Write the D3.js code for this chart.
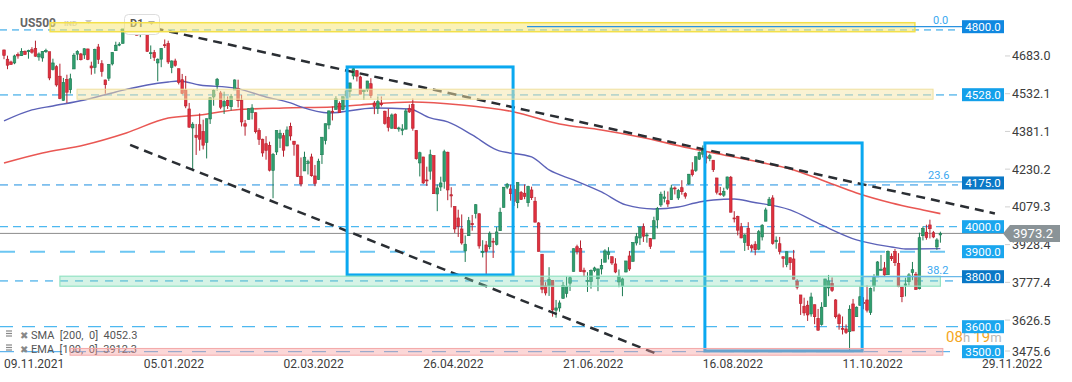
<!DOCTYPE html>
<html>
<head>
<meta charset="utf-8">
<script src="https://cdn.jsdelivr.net/npm/d3@7/dist/d3.min.js"></script>
<style>
  body { margin: 0; background: #fff; }
  svg { display: block; font-family: Roboto, "Noto Sans", sans-serif; }
</style>
</head>
<body>
<svg id="chart" width="1072" height="382"></svg>
<script>
// daily candles, one per weekday from 09.11.2021 to 18.11.2022
const opens = [4707,4670,4659,4655,4689,4684,4701,4700,4708,4713,4679,4675,4700,4700,4629,4640,4602,4505,4589,4548,
  4631,4690,4691,4687,4711,4643,4637,4719,4652,4587,4594,4651,4704,4726,4733,4795,4788,4795,4775,4778,
  4804,4787,4693,4697,4655,4670,4728,4733,4637,4663,4632,4588,4547,4471,4395,4366,4408,4381,4337,4431,
  4519,4566,4535,4482,4505,4480,4547,4553,4506,4412,4429,4456,4456,4385,4350,4332,4325,4225,4299,4354,
  4364,4323,4401,4342,4327,4202,4223,4253,4279,4203,4189,4288,4345,4407,4462,4469,4493,4469,4523,4541,
  4603,4624,4599,4540,4547,4572,4495,4474,4494,4462,4438,4394,4450,4392,4385,4390,4473,4489,4385,4255,
  4279,4187,4222,4285,4131,4159,4181,4298,4128,4081,4035,3991,3903,3964,4013,4053,4052,3900,3927,3920,
  3942,3929,3984,4077,4158,4151,4150,4096,4137,4134,4096,4147,4102,4015,3890,3763,3764,3785,3666,3675,
  3713,3733,3774,3821,3920,3913,3826,3785,3781,3825,3792,3831,3858,3889,3880,3851,3779,3763,3819,3883,
  3861,3935,3955,4000,3965,3953,3951,4027,4087,4113,4104,4108,4155,4115,4156,4133,4171,4227,4225,4270,
  4290,4280,4273,4266,4195,4133,4126,4154,4198,4035,4041,4000,3937,3994,3924,3930,3910,3959,4022,4084,
  4115,3940,3932,3880,3849,3876,3871,3782,3727,3682,3686,3651,3688,3633,3609,3680,3755,3773,3707,3647,
  3593,3591,3580,3691,3640,3685,3697,3707,3657,3762,3799,3825,3835,3808,3881,3901,3853,3758,3766,3780,
  3817,3810,3752,3964,3978,4007,3976,3919,3967];
const highs = [4708,4684,4664,4688,4697,4714,4705,4708,4718,4744,4697,4702,4712,4665,4672,4646,4652,4595,4608,4612,
  4694,4706,4695,4713,4712,4660,4712,4731,4666,4588,4651,4698,4740,4738,4791,4807,4805,4808,4787,4797,
  4818,4797,4725,4707,4673,4714,4749,4744,4665,4672,4632,4611,4603,4495,4418,4411,4453,4428,4432,4517,
  4550,4595,4543,4540,4521,4531,4589,4588,4527,4427,4473,4490,4457,4394,4352,4362,4340,4295,4385,4388,
  4375,4401,4416,4343,4328,4277,4300,4268,4292,4247,4272,4358,4412,4465,4481,4522,4501,4520,4546,4576,
  4637,4627,4604,4548,4583,4594,4503,4521,4521,4464,4472,4453,4453,4400,4410,4471,4489,4513,4386,4300,
  4279,4240,4308,4270,4169,4200,4308,4300,4158,4081,4068,4049,3965,4039,4047,4090,4052,3946,3943,3981,
  3955,3999,4076,4158,4175,4168,4167,4177,4143,4169,4164,4160,4119,4018,3890,3778,3838,3785,3707,3705,
  3779,3801,3802,3913,3928,3945,3836,3818,3829,3840,3832,3871,3910,3918,3880,3874,3829,3796,3863,3903,
  3937,3975,3999,4013,3976,3954,4040,4079,4140,4144,4141,4168,4161,4151,4186,4138,4211,4258,4280,4301,
  4325,4302,4292,4266,4195,4159,4156,4200,4203,4062,4044,4015,3970,4018,3930,3942,3987,4010,4076,4119,
  4126,3961,3959,3880,3900,3876,3907,3790,3727,3716,3704,3736,3688,3671,3698,3791,3807,3797,3710,3653,
  3641,3609,3686,3711,3681,3762,3718,3765,3757,3810,3862,3887,3859,3905,3893,3911,3894,3760,3796,3814,
  3859,3819,3976,4001,4008,4028,3983,3954,3980];
const lows = [4670,4630,4648,4650,4672,4683,4688,4672,4692,4680,4664,4660,4695,4586,4625,4560,4510,4504,4495,4533,
  4631,4666,4665,4671,4666,4608,4612,4651,4600,4532,4583,4645,4703,4722,4733,4780,4778,4775,4765,4758,
  4774,4700,4671,4663,4582,4638,4715,4651,4614,4640,4569,4530,4474,4396,4222,4287,4304,4309,4273,4411,
  4484,4544,4470,4451,4471,4465,4547,4477,4401,4364,4429,4429,4373,4327,4280,4268,4221,4114,4287,4315,
  4280,4322,4345,4284,4199,4161,4223,4209,4200,4162,4187,4251,4329,4390,4425,4469,4455,4466,4501,4517,
  4589,4581,4531,4507,4539,4514,4450,4451,4481,4408,4381,4392,4392,4380,4366,4390,4455,4384,4268,4201,
  4171,4163,4188,4131,4062,4143,4152,4106,4077,3975,3959,3928,3859,3964,3984,4033,3912,3877,3810,3909,
  3875,3925,3984,4077,4150,4104,4083,4074,4107,4110,4080,4107,4018,3901,3734,3725,3723,3640,3636,3660,
  3713,3717,3743,3821,3889,3820,3800,3739,3752,3818,3742,3809,3858,3869,3847,3814,3758,3722,3817,3823,
  3861,3925,3927,3939,3936,3911,3951,3993,4079,4097,4079,4107,4129,4107,4128,4112,4167,4201,4219,4267,
  4277,4253,4262,4219,4129,4124,4119,4147,4057,4017,3965,3954,3903,3907,3900,3886,3906,3945,4022,4083,
  3928,3912,3889,3837,3838,3827,3789,3749,3647,3644,3623,3640,3610,3584,3604,3680,3722,3739,3633,3588,
  3569,3571,3505,3583,3640,3685,3670,3657,3647,3741,3799,3825,3803,3808,3863,3843,3758,3698,3721,3765,
  3786,3748,3749,3945,3948,3953,3954,3907,3936];
const closes = [4685,4646,4649,4683,4683,4701,4689,4705,4698,4682,4691,4701,4705,4595,4655,4567,4513,4577,4538,4592,
  4686,4701,4668,4712,4669,4635,4709,4669,4621,4568,4649,4697,4726,4730,4791,4786,4793,4778,4766,4797,
  4794,4701,4696,4677,4670,4713,4726,4659,4663,4645,4577,4533,4483,4398,4410,4357,4350,4326,4432,4516,
  4546,4590,4478,4501,4484,4522,4587,4504,4419,4402,4472,4475,4380,4349,4295,4305,4226,4289,4385,4374,
  4306,4387,4363,4329,4201,4171,4278,4260,4204,4173,4262,4358,4412,4463,4461,4512,4456,4520,4543,4575,
  4632,4602,4530,4546,4583,4525,4481,4500,4488,4413,4397,4447,4392,4395,4391,4463,4459,4394,4272,4296,
  4175,4183,4288,4132,4155,4175,4300,4147,4123,3991,4001,3935,3930,4024,4008,4088,3923,3901,3901,3974,
  3941,3979,4058,4158,4170,4132,4101,4177,4109,4121,4161,4116,4018,3901,3750,3735,3790,3667,3675,3695,
  3765,3760,3796,3912,3900,3821,3819,3785,3825,3835,3831,3845,3903,3899,3855,3819,3802,3791,3863,3831,
  3937,3960,3999,3962,3967,3921,4024,4073,4130,4119,4091,4155,4152,4145,4140,4122,4210,4208,4280,4297,
  4305,4274,4284,4228,4138,4128,4141,4199,4058,4031,3986,3955,3967,3924,3915,3908,3980,4006,4067,4110,
  3933,3946,3901,3873,3900,3856,3790,3758,3693,3655,3647,3719,3640,3586,3678,3791,3783,3745,3640,3612,
  3589,3577,3670,3583,3678,3720,3695,3666,3753,3797,3859,3830,3807,3901,3872,3856,3760,3720,3771,3807,
  3828,3749,3956,3993,3957,3992,3959,3947,3973];

// indicator lines: [candle index, value]
const sma200 = [[0,4255],[11,4295],[23,4327],[35,4375],[47,4435],[56,4447],[66,4467],[80,4475],[94,4479],[102,4487],
  [117,4499],[131,4487],[146,4459],[159,4411],[171,4387],[182,4359],[196,4315],[206,4287],[216,4259],[225,4231],
  [234,4187],[244,4135],[254,4095],[263,4067],[268,4052.3]];
const ema100 = [[0,4423],[8,4467],[14,4483],[23,4507],[32,4539],[41,4567],[47,4579],[50,4583],[56,4567],[66,4555],
  [75,4519],[82,4495],[85,4479],[93,4455],[106,4475],[116,4471],[122,4435],[127,4419],[134,4367],[141,4307],
  [151,4279],[156,4227],[163,4187],[171,4139],[178,4087],[186,4071],[193,4079],[199,4099],[203,4107],[209,4111],
  [214,4099],[225,4067],[234,4007],[244,3947],[254,3919],[258,3911],[268,3912.3]];

const dateTicks = ["09.11.2021","05.01.2022","02.03.2022","26.04.2022","21.06.2022","16.08.2022","11.10.2022"];
const dateTickIdx = [0,40,80,120,160,200,240];
const priceTicks = [4683.0,4532.1,4381.1,4230.2,4079.3,3928.4,3777.4,3626.5,3475.6];
const levels = [4800,4528,4175,4000,3900,3800,3600,3500];
const lastPrice = 3973.2;

const svg = d3.select("#chart");
const x = d3.scaleLinear().domain([0, 268]).range([4, 4 + 268 * 3.494]);
const y = d3.scaleLinear().domain([3500, 4800]).range([351.7, 26.7]);

svg.append("rect").attr("width", 1072).attr("height", 382).attr("fill", "#fff");

// horizontal dashed levels
const dashLines = [
  {v: 4787, c: "#1a9be3", w: 1, d: "7,5"},
  {v: 4527, c: "#1a9be3", w: 1, d: "8,5"},
  {v: 4167, c: "#1a8ee0", w: 1, d: "8,6"},
  {v: 4000, c: "#4db8f0", w: 1.2, d: "8,5"},
  {v: 3900, c: "#6cc6f2", w: 2, d: "15,15"},
  {v: 3783, c: "#1a9be3", w: 1, d: "8,7"},
  {v: 3600, c: "#4db8f0", w: 1.2, d: "13,9"},
  {v: 3500, c: "#3aa2e8", w: 1, d: "14,10"}
];
svg.append("g").selectAll("line").data(dashLines).join("line")
  .attr("x1", 0).attr("x2", 958)
  .attr("y1", d => y(d.v)).attr("y2", d => y(d.v))
  .attr("stroke", d => d.c).attr("stroke-width", d => d.w)
  .attr("stroke-dasharray", d => d.d);

// current price line
svg.append("line").attr("x1", 0).attr("x2", 1004)
  .attr("y1", y(lastPrice)).attr("y2", y(lastPrice))
  .attr("stroke", "#8c8c8c").attr("stroke-width", 1);

// moving averages
const maLine = d3.line().x(d => x(d[0])).y(d => y(d[1])).curve(d3.curveMonotoneX);
svg.append("path").datum(sma200).attr("d", maLine)
  .attr("fill", "none").attr("stroke", "#e53935").attr("stroke-opacity", 0.85).attr("stroke-width", 1.6);
svg.append("path").datum(ema100).attr("d", maLine)
  .attr("fill", "none").attr("stroke", "#5c62b8").attr("stroke-width", 1.4);

// candles
const candles = closes.map((c, i) => ({i, o: opens[i], h: highs[i], l: lows[i], c}));
const cg = svg.append("g");
const up = d => d.c >= d.o;
cg.selectAll("line").data(candles).join("line")
  .attr("x1", d => x(d.i)).attr("x2", d => x(d.i))
  .attr("y1", d => y(d.h)).attr("y2", d => y(d.l))
  .attr("stroke", d => up(d) ? "#1d7a52" : "#b5202e").attr("stroke-width", 1);
cg.selectAll("rect").data(candles).join("rect")
  .attr("x", d => x(d.i) - 1.3).attr("width", 2.6)
  .attr("y", d => y(Math.max(d.o, d.c)))
  .attr("height", d => Math.max(1, Math.abs(y(d.o) - y(d.c))))
  .attr("fill", d => up(d) ? "#2f9e6e" : "#e0303e")
  .attr("stroke", d => up(d) ? "#1d7a52" : "#b5202e").attr("stroke-width", 0.6);

// trend lines
const trends = [
  {a: [38.9, 4807], b: [283.6, 4053]},
  {a: [36.1, 4327], b: [186.9, 3491]}
];
svg.append("g").selectAll("line").data(trends).join("line")
  .attr("x1", d => x(d.a[0])).attr("y1", d => y(d.a[1]))
  .attr("x2", d => x(d.b[0])).attr("y2", d => y(d.b[1]))
  .attr("stroke", "#2a2e33").attr("stroke-width", 2.5).attr("stroke-dasharray", "9,6");

// blue boxes
const boxes = [
  {i0: 98.2, i1: 145.7, hi: 4639, lo: 3807},
  {i0: 200.6, i1: 245.6, hi: 4335, lo: 3503}
];
svg.append("g").selectAll("rect").data(boxes).join("rect")
  .attr("x", d => x(d.i0)).attr("width", d => x(d.i1) - x(d.i0))
  .attr("y", d => y(d.hi)).attr("height", d => y(d.lo) - y(d.hi))
  .attr("fill", "none").attr("stroke", "#0aa8f0").attr("stroke-width", 3);

// header
const hd = svg.append("g");
hd.append("text").attr("x", 20).attr("y", 27).attr("font-size", 12).attr("font-weight", "bold")
  .attr("fill", "#666").text("US500");
hd.append("text").attr("x", 64).attr("y", 26).attr("font-size", 8).attr("font-weight", "bold")
  .attr("fill", "#c8c8c8").text("IND");
hd.append("path").attr("d", "M85,20 L92,20 L88.5,24 Z").attr("fill", "#c8c8c8");
hd.append("rect").attr("x", 124.5).attr("y", 14.5).attr("width", 35).attr("height", 20).attr("rx", 4)
  .attr("fill", "#fff").attr("stroke", "#ddd");
hd.append("text").attr("x", 130).attr("y", 27).attr("font-size", 11).attr("font-weight", "bold")
  .attr("fill", "#555").text("D1");
hd.append("path").attr("d", "M148,21 L155,21 L151.5,25 Z").attr("fill", "#aaa");

// legend
const legend = [["SMA", "[200,", "0]", "4052.3"], ["EMA", "[100,", "0]", "3912.3"]];
const lg = svg.append("g");
legend.forEach((row, k) => {
  const by = 339 + k * 14;
  [0, 2.5, 5].forEach(dy => lg.append("line").attr("x1", 6).attr("x2", 12)
    .attr("y1", by - 8 + dy).attr("y2", by - 8 + dy).attr("stroke", "#888").attr("stroke-width", 1.2));
  lg.append("text").attr("x", 20).attr("y", by - 0.5).attr("font-size", 10).attr("fill", "#888").text("✖");
  lg.append("text").attr("x", 31).attr("y", by).attr("font-size", 11).attr("fill", "#555")
    .attr("xml:space", "preserve").text(row[0] + "  " + row[1] + "  " + row[2] + "  " + row[3]);
});

// zones
const zones = [
  {i0: 13.2, i1: 260.7, hi: 4816, lo: 4780, fill: "#f7e87a", op: 0.55, stroke: "#f3e04a", sw: 1.5},
  {i0: 20.9, i1: 265.9, hi: 4550, lo: 4510, fill: "#f5e6a8", op: 0.5, stroke: "#efe0a0", sw: 1},
  {i0: 16.0, i1: 268.0, hi: 4802, lo: 4762, fill: "#86dcb8", op: 0.35, stroke: "#93e3c3", sw: 1.2}
];
zones[2].hi = 3802; zones[2].lo = 3762;
zones.push({i0: 18.9, i1: 268.7, hi: 3513, lo: 3486, fill: "#f59a9a", op: 0.4, stroke: "#f4a8a8", sw: 1});
svg.append("g").selectAll("rect").data(zones).join("rect")
  .attr("x", d => x(d.i0)).attr("width", d => x(d.i1) - x(d.i0))
  .attr("y", d => y(d.hi)).attr("height", d => y(d.lo) - y(d.hi))
  .attr("fill", d => d.fill).attr("fill-opacity", d => d.op)
  .attr("stroke", d => d.stroke).attr("stroke-width", d => d.sw);

// fibonacci levels
const fibs = [
  {v: 4800, label: "0.0", i0: 149.7, lx: 933, c: "#2a92e0"},
  {v: 4179, label: "23.6", i0: 245.6, lx: 928, c: "#62b8ec"},
  {v: 3800, label: "38.2", i0: 245.6, lx: 927, c: "#6ab8e8"}
];
const fg = svg.append("g");
fg.selectAll("line").data(fibs).join("line")
  .attr("x1", d => x(d.i0)).attr("x2", 962)
  .attr("y1", d => y(d.v)).attr("y2", d => y(d.v))
  .attr("stroke", d => d.c).attr("stroke-width", 1.3);
fg.selectAll("text").data(fibs).join("text")
  .attr("x", d => d.lx).attr("y", d => y(d.v) - 3)
  .attr("font-size", 11).attr("fill", "#3aa8f0").text(d => d.label);

// countdown
const cd = svg.append("text").attr("x", 946).attr("y", 342).attr("font-size", 15);
cd.append("tspan").attr("fill", "#f5a623").text("08");
cd.append("tspan").attr("fill", "#b8b8b8").attr("font-size", 13).text("h ");
cd.append("tspan").attr("fill", "#f5a623").text("19");
cd.append("tspan").attr("fill", "#b8b8b8").attr("font-size", 13).text("m");

// right price axis
const ax = svg.append("g");
ax.selectAll("line").data(priceTicks).join("line")
  .attr("x1", 1005).attr("x2", 1010)
  .attr("y1", d => Math.min(y(d), 351)).attr("y2", d => Math.min(y(d), 351))
  .attr("stroke", "#d0d0d0");
ax.selectAll("text").data(priceTicks).join("text")
  .attr("x", 1012).attr("y", d => Math.min(y(d), 351) + 4.5)
  .attr("font-size", 12.5).attr("fill", "#3c3c3c").text(d => d.toFixed(1));

// level tags
const tagColor = {4800: "#1088e0", 4528: "#13a0ea", 4175: "#0a78c6", 4000: "#1aa6ee",
  3900: "#1aa6ee", 3800: "#0a78c6", 3600: "#1aa6ee", 3500: "#1aa6ee"};
const tg = svg.append("g").selectAll("g").data(levels).join("g")
  .attr("transform", d => `translate(962,${y(d)})`);
tg.append("rect").attr("x", 0).attr("y", -6.5).attr("width", 42).attr("height", 13)
  .attr("fill", d => tagColor[d]);
tg.append("text").attr("x", 21).attr("y", 4.2).attr("text-anchor", "middle")
  .attr("font-size", 11.5).attr("fill", "#fff").text(d => d.toFixed(1));

// last price tag
const ly = y(lastPrice);
svg.append("path")
  .attr("d", `M1003,${ly} L1010,${ly - 8.5} L1060,${ly - 8.5} L1060,${ly + 8.5} L1010,${ly + 8.5} Z`)
  .attr("fill", "#8a9397");
svg.append("text").attr("x", 1013).attr("y", ly + 4.8).attr("font-size", 13)
  .attr("fill", "#fff").text(lastPrice.toFixed(1));

// time axis
const tx = svg.append("g");
tx.selectAll("text").data(dateTicks).join("text")
  .attr("x", (d, k) => x(dateTickIdx[k])).attr("y", 368)
  .attr("font-size", 12).attr("fill", "#3c3c3c").text(d => d);
tx.append("text").attr("x", 982).attr("y", 368).attr("font-size", 12).attr("fill", "#3c3c3c").text("29.11.2022");
</script>
</body>
</html>
